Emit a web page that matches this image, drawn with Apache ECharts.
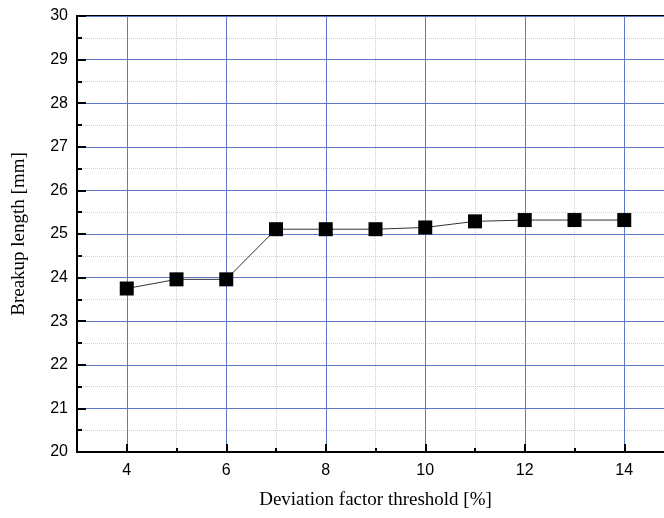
<!DOCTYPE html>
<html>
<head>
	<meta charset="utf-8">
	<title>Breakup length</title>
	<style>
		html, body { margin: 0; padding: 0; background: #fff; }
		#chart { width: 664px; height: 518px; }
	</style>
</head>
<body>
	<div id="chart"></div>
	<script type="text/javascript" src="https://cdn.jsdelivr.net/npm/echarts@6/dist/echarts.min.js"></script>
	<script type="text/javascript">
	// x axis runs 3..15, labels on the even ones
	var xCategories = ['3', '4', '5', '6', '7', '8', '9', '10', '11', '12', '13', '14', '15'];
	var thresholds = ['4', '5', '6', '7', '8', '9', '10', '11', '12', '13', '14'];
	var breakupLength = [23.75, 23.96, 23.96, 25.11, 25.11, 25.11, 25.15, 25.29, 25.32, 25.32, 25.32];

	var majorBlue = '#5f77c9';
	var minorDot = '#c9d3c2';

	function isEven(idx, val) {
		return (+val) % 2 === 0;
	}
	function isOdd(idx, val) {
		return (+val) % 2 === 1;
	}

	var myChart = echarts.init(document.getElementById('chart'));

	var seriesData = [];
	for (var i = 0; i < thresholds.length; i++) {
		seriesData.push([thresholds[i], breakupLength[i]]);
	}

	var option = {
		animation: false,
		backgroundColor: '#fff',
		grid: {
			left: 77,
			top: 16,
			width: 597,
			height: 436,
			outerBoundsMode: 'none'
		},
		xAxis: [{
			type: 'category',
			data: xCategories,
			boundaryGap: false,
			position: 'bottom',
			name: 'Deviation factor threshold [%]',
			nameLocation: 'middle',
			nameGap: 39,
			nameTextStyle: {
				fontFamily: 'Liberation Serif',
				fontSize: 19,
				color: '#000'
			},
			axisLine: {
				lineStyle: { color: '#000', width: 2 }
			},
			axisTick: {
				inside: true,
				length: 8,
				interval: isEven,
				lineStyle: { color: '#000', width: 2 }
			},
			axisLabel: {
				interval: isEven,
				margin: 11,
				fontFamily: 'Liberation Sans',
				fontSize: 16,
				color: '#000'
			},
			splitLine: {
				show: true,
				interval: isEven,
				lineStyle: { color: majorBlue, width: 1 }
			},
			z: 3
		}, {
			// minor ticks / dotted grid on odd values
			type: 'category',
			data: xCategories,
			boundaryGap: false,
			position: 'bottom',
			axisLine: { show: false },
			axisTick: {
				inside: true,
				length: 4,
				interval: isOdd,
				lineStyle: { color: '#000', width: 2 }
			},
			axisLabel: { show: false },
			splitLine: {
				show: true,
				interval: isOdd,
				lineStyle: { color: minorDot, width: 1, type: 'dotted' }
			}
		}, {
			// top frame
			type: 'category',
			data: xCategories,
			boundaryGap: false,
			position: 'top',
			axisLine: {
				lineStyle: { color: '#000', width: 2 }
			},
			axisTick: { show: false },
			axisLabel: { show: false },
			splitLine: { show: false }
		}],
		yAxis: {
			type: 'value',
			min: 20,
			max: 30,
			interval: 1,
			name: 'Breakup length [mm]',
			nameLocation: 'middle',
			nameGap: 48,
			nameTextStyle: {
				fontFamily: 'Liberation Serif',
				fontSize: 19,
				color: '#000'
			},
			axisLine: {
				show: true,
				lineStyle: { color: '#000', width: 2 }
			},
			axisTick: {
				show: true,
				inside: true,
				length: 9,
				lineStyle: { color: '#000', width: 2 }
			},
			minorTick: {
				show: true,
				splitNumber: 2,
				length: 5,
				lineStyle: { color: '#000', width: 2 }
			},
			axisLabel: {
				margin: 9,
				fontFamily: 'Liberation Sans',
				fontSize: 16,
				color: '#000'
			},
			splitLine: {
				show: true,
				lineStyle: { color: majorBlue, width: 1 }
			},
			minorSplitLine: {
				show: true,
				lineStyle: { color: minorDot, width: 1, type: 'dotted' }
			},
			z: 3
		},
		series: [{
			name: 'Breakup length',
			type: 'line',
			xAxisIndex: 0,
			data: seriesData,
			symbol: 'rect',
			symbolSize: 14,
			itemStyle: { color: '#000' },
			lineStyle: { color: '#333', width: 1 },
			z: 5
		}]
	};
	myChart.setOption(option);
	</script>
</body>
</html>
